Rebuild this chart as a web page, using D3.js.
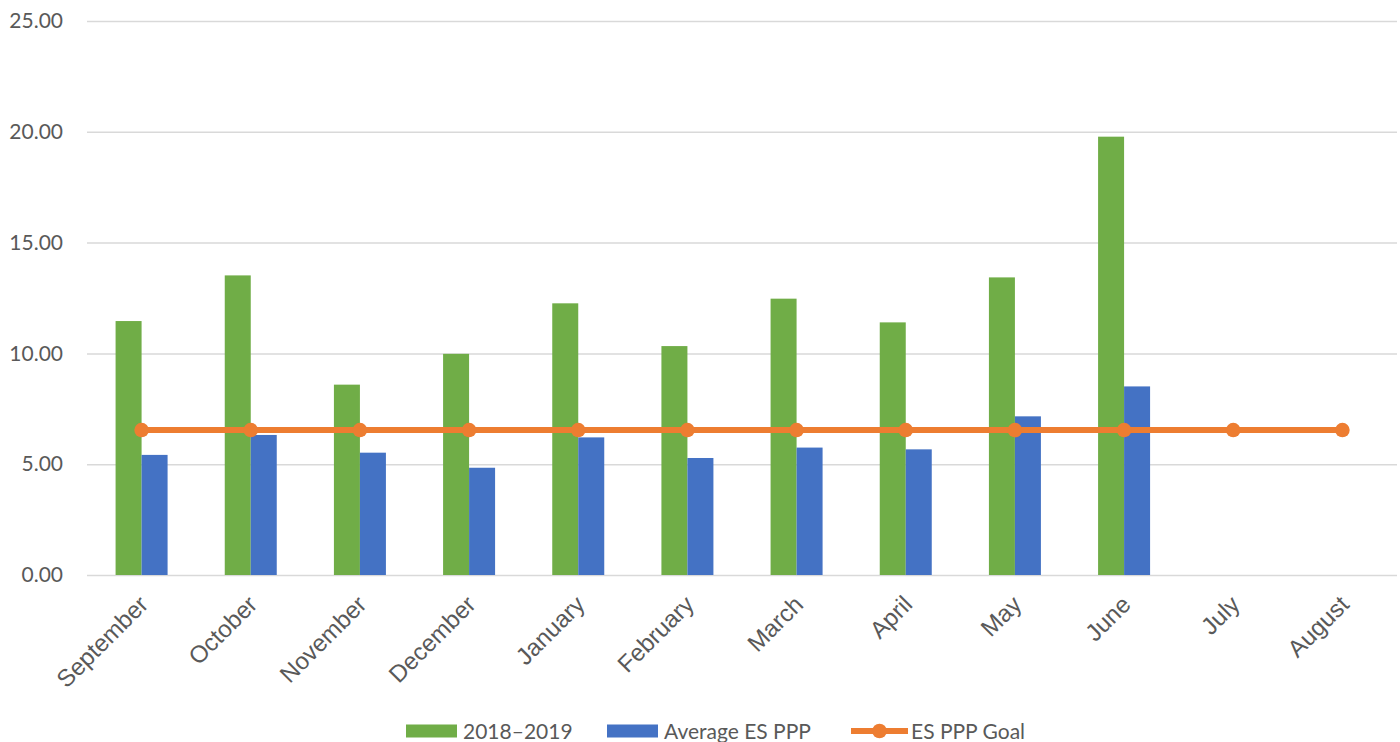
<!DOCTYPE html>
<html>
<head>
<meta charset="utf-8">
<script src="https://cdn.jsdelivr.net/npm/d3@7"></script>
<style>
  body { margin: 0; background: #fff; }
</style>
</head>
<body>
<div id="my_dataviz"></div>
<script>
var months = ["September", "October", "November", "December", "January", "February",
              "March", "April", "May", "June", "July", "August"]
var seriesNames = ["2018\u20132019", "Average ES PPP", "ES PPP Goal"]
var year2018 = [11.46, 13.52, 8.59, 9.98, 12.26, 10.33, 12.47, 11.40, 13.43, 19.78, null, null]
var avgPPP = [5.42, 6.32, 5.52, 4.84, 6.21, 5.28, 5.75, 5.67, 7.16, 8.51, null, null]
var goal = [6.54, 6.54, 6.54, 6.54, 6.54, 6.54, 6.54, 6.54, 6.54, 6.54, 6.54, 6.54]
var yTicks = [0, 5, 10, 15, 20, 25]

var colors = ["#70AD47", "#4472C4", "#ED7D31"]

// set the dimensions and margins of the graph
var margin = {top: 21, right: 3, bottom: 167, left: 87},
    width = 1400 - margin.left - margin.right,
    height = 742 - margin.top - margin.bottom;

var svg = d3.select("#my_dataviz")
  .append("svg")
    .attr("width", 1400)
    .attr("height", 742)
  .append("g")
    .attr("transform", "translate(" + margin.left + "," + margin.top + ")")

// scales
var x = d3.scaleBand()
  .domain(months)
  .range([0, width])
  .padding(0)

var y = d3.scaleLinear()
  .domain([0, 25])
  .range([height, 0])

var barW = 26

// gridlines + y labels
svg.append("g")
  .call(d3.axisLeft(y).tickValues(yTicks).tickSize(-width).tickPadding(24)
        .tickFormat(d3.format(".2f")))
  .call(g => g.select(".domain").remove())
  .call(g => g.selectAll(".tick line").attr("stroke", "#D9D9D9").attr("stroke-width", 1.5))
  .call(g => g.selectAll(".tick text")
      .attr("fill", "#595959")
      .style("font-family", "Lato, 'Open Sans', sans-serif")
      .style("font-size", "21px"))

// x labels (rotated)
svg.append("g")
  .selectAll("text")
  .data(months)
  .enter()
  .append("text")
    .attr("text-anchor", "end")
    .attr("transform", function(d) {
      return "translate(" + (x(d) + x.bandwidth() / 2 + 8) + "," + (height + 31) + ") rotate(-45)"
    })
    .attr("fill", "#595959")
    .style("font-family", "'Liberation Sans', Arial, sans-serif")
    .style("font-size", "24px")
    .text(function(d) { return d })

// bars
var barData = [year2018, avgPPP]
barData.forEach(function(vals, si) {
  svg.append("g")
    .selectAll("rect")
    .data(months.map(function(m, i) { return {m: m, v: vals[i]} }).filter(function(d) { return d.v != null }))
    .enter()
    .append("rect")
      .attr("x", function(d) { return x(d.m) + x.bandwidth() / 2 - barW + si * barW })
      .attr("y", function(d) { return y(d.v) })
      .attr("width", barW)
      .attr("height", function(d) { return height - y(d.v) })
      .attr("fill", colors[si])
})

// goal line
var line = d3.line()
  .x(function(d, i) { return x(months[i]) + x.bandwidth() / 2 })
  .y(function(d) { return y(d) })

svg.append("path")
  .datum(goal)
  .attr("d", line)
  .attr("fill", "none")
  .attr("stroke", colors[2])
  .attr("stroke-width", 6)

svg.append("g")
  .selectAll("circle")
  .data(goal)
  .enter()
  .append("circle")
    .attr("cx", function(d, i) { return x(months[i]) + x.bandwidth() / 2 })
    .attr("cy", function(d) { return y(d) })
    .attr("r", 7.3)
    .attr("fill", colors[2])

// legend
var root = d3.select("svg")
var legend = root.append("g").attr("transform", "translate(0,731)")
var legX = [406, 607, 851]
seriesNames.forEach(function(name, i) {
  var g = legend.append("g").attr("transform", "translate(" + legX[i] + ",0)")
  if (i < 2) {
    g.append("rect").attr("x", 0).attr("y", -6.5).attr("width", 51).attr("height", 13).attr("fill", colors[i])
  } else {
    g.append("line").attr("x1", 0).attr("x2", 57).attr("y1", 0).attr("y2", 0)
      .attr("stroke", colors[i]).attr("stroke-width", 6)
    g.append("circle").attr("cx", 28.5).attr("cy", 0).attr("r", 7.3).attr("fill", colors[i])
  }
  g.append("text")
    .attr("x", i < 2 ? 57 : 60)
    .attr("y", 0)
    .attr("dy", "0.36em")
    .attr("fill", "#595959")
    .style("font-family", "Lato, 'Open Sans', sans-serif")
    .style("font-size", "21px")
    .text(name)
})
</script>
</body>
</html>
